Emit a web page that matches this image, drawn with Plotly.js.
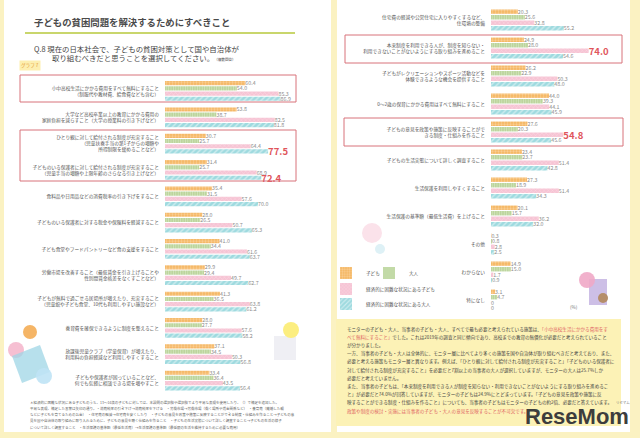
<!DOCTYPE html>
<html>
<head>
<meta charset="utf-8">
<script src="https://cdn.plot.ly/plotly-3.0.1.min.js"></script>
<style>html,body{margin:0;padding:0;background:#fff;}#chart{width:640px;height:438px;}</style>
</head>
<body>
<div id="chart"></div>
<script>
// ---------- DATA ----------
const catsLeft = [
  "小中高校生活にかかる費用をすべて無料にすること<br>（制服代や教材費、給食費なども含む）",
  "大学など高校卒業以上の教育にかかる費用の<br>家庭負担を減らすこと（大学の授業料の引き下げなど）",
  "ひとり親に対して給付される制度が充実すること<br>（児童扶養手当の第1子からの増額や<br>所得制限を緩めることなど）",
  "子どものいる保護者に対して給付される制度が充実すること<br>（児童手当の増額や上限年齢のさらなる引き上げなど）",
  "食料品や日用品などの消費税率の引き下げをすること",
  "子どものいる保護者に対する税金や保険料を軽減すること",
  "子ども食堂やフードパントリーなど食の支援をすること",
  "労働市場を改善すること（最低賃金を引き上げることや<br>性別間賃金格差をなくすことなど）",
  "子どもが無料で過ごせる居場所が増えたり、充実すること<br>（児童館や子ども食堂、10代も利用しやすい施設など）",
  "養育費を確保できるように制度を整えること",
  "放課後児童クラブ（学童保育）が増えたり、<br>利用料の負担軽減など利用しやすくすること",
  "子どもや保護者が困っていることなど、<br>何でも気軽に相談できる場を増やすこと"
];
const kidsLeft       = [60.4, 53.8, 30.7, 31.4, 35.4, 28.0, 41.0, 29.9, 41.3, 28.0, 37.1, 33.4];
const adultsLeft     = [54.0, 38.7, 25.7, 25.7, 31.5, 26.5, 34.4, 29.4, 36.5, 27.7, 34.5, 36.4];
const poorKidsLeft   = [85.3, 82.5, 64.4, 68.9, 57.6, 50.7, 61.6, 49.7, 63.8, 57.6, 50.3, 43.5];
const poorAdultsLeft = [86.9, 81.8, 77.5, 72.4, 70.0, 65.3, 63.7, 62.7, 61.2, 58.2, 56.8, 56.4];

const catsRight = [
  "住宅費の軽減や公営住宅に入りやすくするなど、<br>住環境の整備",
  "本来制度を利用できる人が、制度を知らない・<br>利用できないことがないようにする取り組みを進めること",
  "子どもがレクリエーションやスポーツ活動などを<br>体験できるような機会を提供すること",
  "0〜2歳の保育にかかる費用はすべて無料にすること",
  "子どもの意見を政策や施策に反映することがで<br>きる制度・仕組みを作ること",
  "子どもの生活実態について詳しく調査すること",
  "生活保護を利用しやすくすること",
  "生活保護の基準額（最低生活費）を上げること",
  "その他",
  "わからない",
  "特になし"
];
const kidsRight       = [20.3, 24.9, 26.2, 44.0, 27.6, 23.4, 27.3, 20.1, 0.3, 14.9, 3.1];
const adultsRight     = [25.6, 28.0, 22.9, 39.3, 20.3, 23.7, 18.9, 15.7, 0.8, 15.0, 4.7];
const poorKidsRight   = [32.8, 74.0, 50.3, 44.1, 54.8, 51.4, 51.4, 36.2, 2.8, 1.7, 0];
const poorAdultsRight = [55.2, 54.6, 48.0, 45.9, 45.6, 42.8, 34.3, 32.0, 2.5, 0.9, 0];

const seriesNames = ["子ども", "大人", "経済的に困難な状況にある子ども", "経済的に困難な状況にある大人"];

// ---------- STYLE ----------
const FONT = "'Noto Sans CJK JP', 'Noto Sans', sans-serif";
const highlight = { // series index -> highlighted category indices
  left:  {3: [2, 3]},
  right: {2: [1, 4]}
};
const seriesStyle = [
  {color: "#f4b560", pattern: {shape: ".", fgcolor: "#fde5c3", size: 3, solidity: 0.45, fillmode: "overlay"}},
  {color: "#b9d49a", pattern: {shape: "|", fgcolor: "#e8f1dc", size: 2.4, solidity: 0.4, fillmode: "overlay"}},
  {color: "#f6c4d4", pattern: {shape: "x", fgcolor: "#fde8ef", size: 3, solidity: 0.3, fillmode: "overlay"}},
  {color: "#9edadf", pattern: {shape: "/", fgcolor: "#ffffff", size: 4, solidity: 0.35, fillmode: "overlay"}}
];
const legends = ["legend", "legend4", "legend2", "legend3"];

function fmt(v) { return v === 0 ? "0" : v.toFixed(1); }

function makeTrace(i, vals, cats, side, xa, ya) {
  const hl = (highlight[side][i] || []);
  return {
    type: "bar", orientation: "h", name: seriesNames[i],
    x: vals, y: cats, xaxis: xa, yaxis: ya,
    marker: {color: seriesStyle[i].color, pattern: seriesStyle[i].pattern, line: {width: 0}},
    text: vals.map(fmt),
    textposition: "outside",
    textfont: {
      family: FONT,
      size: vals.map((v, k) => hl.includes(k) ? 9.5 : 5.3),
      color: vals.map((v, k) => hl.includes(k) ? "#e0555b" : "#8a8a8a"),
      weight: vals.map((v, k) => hl.includes(k) ? 700 : 400)
    },
    cliponaxis: false, constraintext: "none",
    hoverinfo: "skip",
    legendgroup: "g" + i, showlegend: side === "left", legend: legends[i]
  };
}

const leftVals = [kidsLeft, adultsLeft, poorKidsLeft, poorAdultsLeft];
const rightVals = [kidsRight, adultsRight, poorKidsRight, poorAdultsRight];
const traces = [];
leftVals.forEach((v, i) => traces.push(makeTrace(i, v, catsLeft, "left", "x", "y")));
rightVals.forEach((v, i) => traces.push(makeTrace(i, v, catsRight, "right", "x2", "y2")));

// ---------- LAYOUT HELPERS ----------
const W = 640, H = 438;
const px = x => x / W, py = y => 1 - y / H;
function rect(x0, y0, x1, y1, opts) {
  return Object.assign({type: "rect", xref: "paper", yref: "paper", x0: px(x0), x1: px(x1), y0: py(y1), y1: py(y0), line: {width: 0}}, opts);
}
function circ(cx, cy, r, color, op) {
  return {type: "circle", xref: "paper", yref: "paper", x0: px(cx - r), x1: px(cx + r), y0: py(cy + r), y1: py(cy - r),
    fillcolor: color, opacity: op || 1, line: {width: 0}, layer: "below"};
}
function txt(x, y, text, size, color, extra) {
  return Object.assign({xref: "paper", yref: "paper", x: px(x), y: py(y), text: text, showarrow: false,
    xanchor: "left", yanchor: "middle", font: {family: FONT, size: size, color: color}}, extra || {});
}

const shapes = [
  rect(4, 0, 331, 432, {fillcolor: "#ffffff", layer: "below"}),
  rect(337, 0, 630, 432, {fillcolor: "#ffffff", layer: "below"}),
  {type: "line", xref: "paper", yref: "paper", x0: px(25), x1: px(295), y0: py(33), y1: py(33), line: {color: "#c9d66c", width: 2}},
  // highlight boxes
  rect(20, 75, 296, 102, {line: {color: "#d8727a", width: 1}, fillcolor: "rgba(0,0,0,0)"}),
  rect(20, 130, 296, 181, {line: {color: "#d8727a", width: 1}, fillcolor: "rgba(0,0,0,0)"}),
  rect(345, 35, 622, 63, {line: {color: "#d8727a", width: 1}, fillcolor: "rgba(0,0,0,0)"}),
  rect(344, 118, 623, 146, {line: {color: "#d8727a", width: 1}, fillcolor: "rgba(0,0,0,0)"}),
  // comment box
  rect(336, 319, 621, 426, {fillcolor: "#fcf2b6", layer: "below"}),
  // decorations
  circ(30, 332, 7, "#f5b566"),
  circ(16, 350, 8, "#f6bfd2"),
  {type: "path", xref: "paper", yref: "paper", path: `M ${px(12)} ${py(356)} L ${px(40)} ${py(345)} L ${px(50)} ${py(372)} L ${px(22)} ${py(383)} Z`,
    fillcolor: "#9fd6e6", opacity: 0.75, line: {width: 0}, layer: "below"},
  circ(44, 376, 8, "#bfe3f5", 0.9),
  rect(274, 336, 296, 360, {fillcolor: "#efeff4", layer: "below"}),
  circ(291, 330, 8, "#fcee80"),
  circ(372, 233, 10, "#fbe2ea"),
  circ(380, 249, 5, "#def1f6"),
  rect(589, 279, 607, 305, {fillcolor: "#cdbfe6", layer: "below"}),
  circ(587, 280, 8, "#f0a8c6", 0.9),
  circ(603, 298, 5, "#b58e6a")
];

const annotations = [
  txt(32, 22, "<b>子どもの貧困問題を解決するためにすべきこと</b>", 9.4, "#4a4a4a"),
  txt(32, 48, "Q.8 現在の日本社会で、子どもの貧困対策として国や自治体が", 7.4, "#444"),
  txt(50, 58, "取り組むべきだと思うことを選択してください。<span style='font-size:3.6px'>（複数回答）</span>", 7.4, "#444"),
  txt(19, 66, "グラフ 7", 4.6, "#e3972e", {bgcolor: "#fdefb0"}),
  txt(568, 307, "(%)", 4.6, "#777"),
  txt(577, 416, "<b>ReseMom</b>", 22, "#3d3d3d", {xanchor: "center", font: {family: "'Liberation Sans Narrow', 'Liberation Sans', sans-serif", size: 22, color: "#3d3d3d"}}),
  txt(614, 402, "リセマム", 3.4, "#777")
];

const noteLines = [
  "モニターの子ども・大人、当事者の子ども・大人、すべてで最も必要と考えられている施策は、<span style='color:#e06262'>「小中高校生活にかかる費用をす</span>",
  "<span style='color:#e06262'>べて無料にすること」</span>でした。これは2019年の調査と同じ傾向であり、高校までの教育の無償化が必要だと考えられていること",
  "が分かりました。",
  "一方、当事者の子ども・大人は全体的に、モニター層に比べてより多くの施策を国や自治体が取り組むべきだと考えており、また、",
  "必要と考える施策もモニター層と異なります。例えば、「ひとり親に対して給付される制度が充実すること」「子どものいる保護者に",
  "対して給付される制度が充実すること」を必要だと7割以上の当事者の大人が選択していますが、モニターの大人は25.7%しか",
  "必要だと考えていません。",
  "また、当事者の子どもは、「本来制度を利用できる人が制度を知らない・利用できないことがないようにする取り組みを進めるこ",
  "と」が必要だと74.0%が回答していますが、モニターの子どもは24.9%にとどまっています。「子どもの意見を政策や施策に反",
  "映することができる制度・仕組みを作ること」についても、当事者の子どもはモニターの子どもの約2倍、必要だと答えています。",
  "<span style='color:#e06262'>政策や制度の検討・実施には当事者の子ども・大人の意見を反映することが不可欠です。</span>"
];
noteLines.forEach((t, i) => annotations.push(txt(345, 329 + i * 8.2, t, 4.55, "#444")));

const footLines = [
  "＊経済的に困難な状況にある子どものうち、13〜14歳の子どもに対しては、本設問の選択肢や選択肢でより平易な表現を使用したり、（）で補足を追加した。",
  "平易な表現、補足した言葉は矢印の通り。・消費税率の引き下げ→消費税率を下げる　・労働市場→労働市場（働く場所や賃金関係など）　・養育費（離婚した親",
  "などに子どもを育てるためのお金）　・住宅費の軽減→住宅費を安くしたり　・子どもの意見を政策や施策に反映することができる制度・仕組みを作ること→子どもの意",
  "見を国や自治体の取り組みに取り入れるために、子どもの意見を聴く仕組みを作ること　・子どもの生活実態について詳しく調査すること→子どもの生活の様子",
  "について詳しく調査すること　・生活保護の基準額（最低生活費）→生活保護の基準額（最低限の生活を維持するために必要な費用）"
];
footLines.forEach((t, i) => annotations.push(txt(28, 402 + i * 6.3, t, 3.5, "#666")));

const yCommon = {type: "category", ticks: "", showline: false, showgrid: false, zeroline: false,
  tickfont: {family: FONT, size: 4.7, color: "#555"}, ticklabelstandoff: 5, fixedrange: true};
const xCommon = {range: [0, 100], visible: false, fixedrange: true};
const legendBase = {xanchor: "left", yanchor: "middle", orientation: "v",
  font: {family: FONT, size: 4.6, color: "#555"}, bgcolor: "rgba(0,0,0,0)", itemwidth: 30};

const layout = {
  width: W, height: H, margin: {l: 0, r: 0, t: 0, b: 0},
  paper_bgcolor: "#fbf2c2", plot_bgcolor: "rgba(0,0,0,0)",
  font: {family: FONT},
  barmode: "group", bargap: 0.21, bargroupgap: 0.2,
  xaxis: Object.assign({domain: [165 / W, 298 / W], anchor: "y"}, xCommon),
  yaxis: Object.assign({domain: [py(393.7), py(77.8)], anchor: "x", range: [11.5, -0.5]}, yCommon),
  xaxis2: Object.assign({domain: [491 / W, 623 / W], anchor: "y2"}, xCommon),
  yaxis2: Object.assign({domain: [py(314), py(6)], anchor: "x2", range: [10.5, -0.5]}, yCommon),
  legend:  Object.assign({x: px(326), y: py(273)}, legendBase),
  legend4: Object.assign({x: px(369), y: py(273)}, legendBase),
  legend2: Object.assign({x: px(326), y: py(289)}, legendBase),
  legend3: Object.assign({x: px(326), y: py(304)}, legendBase),
  shapes: shapes,
  annotations: annotations
};

Plotly.newPlot("chart", traces, layout, {staticPlot: true, displayModeBar: false});
</script>
</body>
</html>
